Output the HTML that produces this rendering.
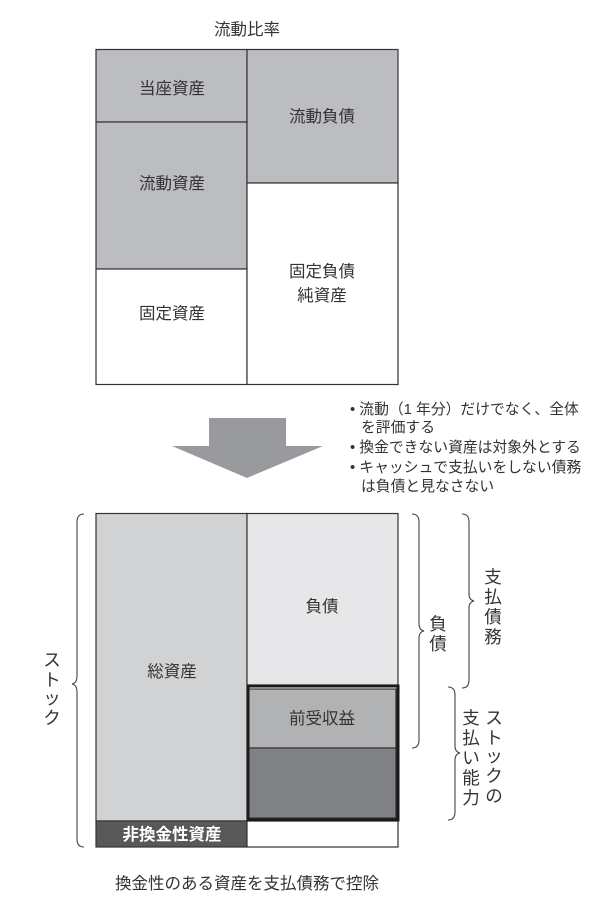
<!DOCTYPE html>
<html><head><meta charset="utf-8"><style>
html,body{margin:0;padding:0;background:#fff;width:600px;height:901px;overflow:hidden}
svg text{font-family:"Liberation Sans","Noto Sans CJK JP",sans-serif;fill:#333}
</style></head><body>
<svg width="600" height="901" viewBox="0 0 600 901" xmlns="http://www.w3.org/2000/svg">
<text x="247" y="35" font-size="16.5" text-anchor="middle">流動比率</text>
<g stroke="#333" stroke-width="1.2">
<rect x="96" y="49.5" width="151" height="72.5" fill="#bcbdc0"/>
<rect x="96" y="122" width="151" height="147" fill="#bcbdc0"/>
<rect x="96" y="269" width="151" height="115.5" fill="#fff"/>
<rect x="247" y="49.5" width="151" height="133.5" fill="#bcbdc0"/>
<rect x="247" y="183" width="151" height="201.5" fill="#fff"/>
</g>
<g font-size="16.5" text-anchor="middle">
<text x="172" y="94">当座資産</text>
<text x="172" y="189">流動資産</text>
<text x="172" y="319">固定資産</text>
<text x="322" y="122">流動負債</text>
<text x="322" y="277">固定負債</text>
<text x="322" y="301">純資産</text>
</g>
<polygon points="209,418 286,418 286,446 323,446 247,478 172,446 209,446" fill="#999a9d"/>
<g font-size="14.8">
<text x="350" y="414">• 流動（1 年分）だけでなく、全体</text>
<text x="361" y="432">を評価する</text>
<text x="350" y="452">• 換金できない資産は対象外とする</text>
<text x="350" y="472">• キャッシュで支払いをしない債務</text>
<text x="361" y="491">は負債と見なさない</text>
</g>
<g stroke="#333" stroke-width="1.2">
<rect x="96" y="513.5" width="151" height="307.5" fill="#d1d2d4"/>
<rect x="96" y="821" width="151" height="26" fill="#58585a"/>
<rect x="247" y="513.5" width="151" height="171.5" fill="#e7e7e9"/>
<rect x="247" y="821" width="151" height="26" fill="#fff"/>
<rect x="248" y="689" width="148" height="59" fill="#b1b2b4"/>
<rect x="248" y="748" width="148" height="70" fill="#808184"/>
</g>
<rect x="248" y="686" width="150" height="134" fill="none" stroke="#1a1a1a" stroke-width="3"/>
<g font-size="16.5" text-anchor="middle">
<text x="172" y="677">総資産</text>
<text x="322" y="612">負債</text>
<text x="322" y="724">前受収益</text>
<text x="172" y="840" style="fill:#fff;font-weight:bold">非換金性資産</text>
<text x="247" y="889">換金性のある資産を支払債務で控除</text>
</g>
<g fill="none" stroke="#444" stroke-width="1.1">
<path d="M84,514 Q77,514 77,522 L77,676 Q77,683 72,684 Q77,685 77,692 L77,839 Q77,847 84,847"/>
<path d="M412,514 Q419,514 419,522 L419,624 Q419,630 424,631 Q419,632 419,638 L419,740 Q419,748 412,748"/>
<path d="M462,514 Q469,514 469,522 L469,594 Q469,600 474,601 Q469,602 469,608 L469,680 Q469,688 462,688"/>
<path d="M448,687 Q455,687 455,695 L455,746 Q455,752 460,753 Q455,754 455,760 L455,812 Q455,820 448,820"/>
</g>
<g font-size="17.5" text-anchor="middle">
<text x="52" y="666">ス</text><text x="52" y="686">ト</text><text x="52" y="704">ッ</text><text x="52" y="724">ク</text>
<text x="438" y="630">負</text><text x="438" y="650">債</text>
<text x="493" y="583">支</text><text x="493" y="603">払</text><text x="493" y="623">債</text><text x="493" y="643">務</text>
<text x="494" y="724">ス</text><text x="494" y="744">ト</text><text x="494" y="762">ッ</text><text x="494" y="782">ク</text><text x="494" y="802">の</text>
<text x="471" y="724">支</text><text x="471" y="744">払</text><text x="471" y="764">い</text><text x="471" y="784">能</text><text x="471" y="804">力</text>
</g>
</svg>
</body></html>
